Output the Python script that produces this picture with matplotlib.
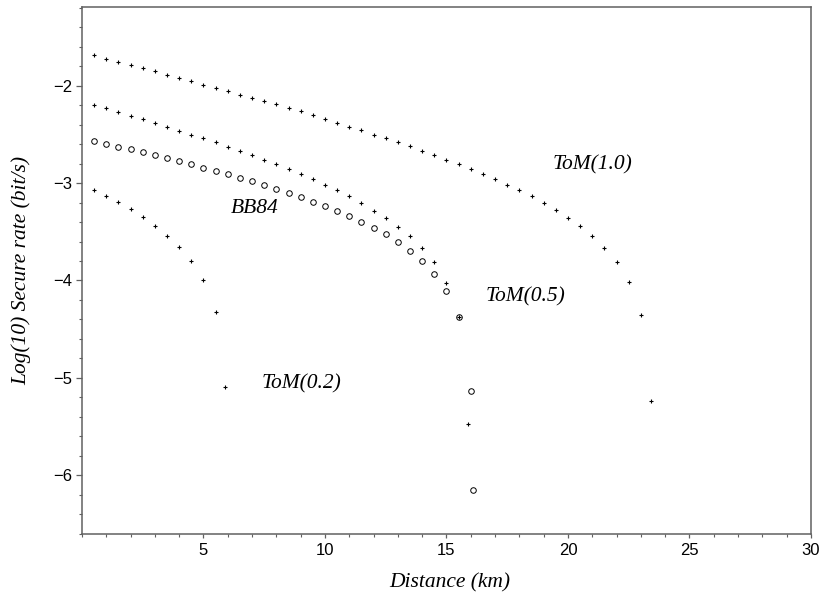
import matplotlib
matplotlib.use("Agg")
import matplotlib.pyplot as plt
from matplotlib.ticker import MultipleLocator

# distance grid (km) used by the Maple point plots
dist = [0.5, 1.0, 1.5, 2.0, 2.5, 3.0, 3.5, 4.0, 4.5, 5.0,
        5.5, 6.0, 6.5, 7.0, 7.5, 8.0, 8.5, 9.0, 9.5, 10.0,
        10.5, 11.0, 11.5, 12.0, 12.5, 13.0, 13.5, 14.0, 14.5, 15.0,
        15.5, 16.0, 16.5, 17.0, 17.5, 18.0, 18.5, 19.0, 19.5, 20.0,
        20.5, 21.0, 21.5, 22.0, 22.5, 23.0]

# ToM(1.0)
tom10_x = dist + [23.4]
tom10_y = [-1.686, -1.721, -1.752, -1.782, -1.816, -1.850, -1.884, -1.918, -1.952, -1.987,
           -2.020, -2.054, -2.089, -2.123, -2.157, -2.191, -2.225, -2.259, -2.297, -2.341,
           -2.379, -2.419, -2.457, -2.501, -2.535, -2.580, -2.621, -2.668, -2.713, -2.757,
           -2.805, -2.852, -2.904, -2.958, -3.016, -3.074, -3.136, -3.204, -3.276, -3.354,
           -3.443, -3.542, -3.661, -3.811, -4.012, -4.353, -5.240]

# ToM(0.5)
tom05_x = dist[:31] + [15.9]
tom05_y = [-2.198, -2.232, -2.270, -2.307, -2.345, -2.382, -2.419, -2.460, -2.501, -2.539,
           -2.580, -2.624, -2.668, -2.709, -2.757, -2.805, -2.856, -2.907, -2.962, -3.016,
           -3.071, -3.128, -3.200, -3.282, -3.361, -3.453, -3.545, -3.668, -3.814, -4.022,
           -4.377, -5.475]

# BB84
bb84_x = dist[:31] + [16.0, 16.1]
bb84_y = [-2.566, -2.593, -2.624, -2.652, -2.682, -2.713, -2.744, -2.774, -2.808, -2.839,
          -2.873, -2.907, -2.944, -2.979, -3.016, -3.057, -3.098, -3.143, -3.190, -3.238,
          -3.286, -3.340, -3.395, -3.460, -3.527, -3.606, -3.695, -3.801, -3.934, -4.107,
          -4.377, -5.138, -6.155]

# ToM(0.2)
tom02_x = dist[:11] + [5.9]
tom02_y = [-3.071, -3.132, -3.197, -3.269, -3.347, -3.435, -3.538, -3.654, -3.797, -3.995,
           -4.325, -5.093]

# curve labels: text, x, y
labels = [("ToM(1.0)", 21.0, -2.81),
          ("ToM(0.5)", 18.25, -4.17),
          ("BB84", 7.1, -3.26),
          ("ToM(0.2)", 9.05, -5.06)]

serif = ["Liberation Serif", "DejaVu Serif"]
sans = ["Liberation Sans Narrow", "Liberation Sans", "DejaVu Sans"]

fig = plt.figure(figsize=(8.2, 5.95), dpi=100)
ax = fig.add_axes([0.1, 0.1025, 0.889, 0.8857])

ax.plot(tom10_x, tom10_y, ls="none", marker="+", ms=3.2, mew=0.8, color="black")
ax.plot(tom05_x, tom05_y, ls="none", marker="+", ms=3.2, mew=0.8, color="black")
ax.plot(tom02_x, tom02_y, ls="none", marker="+", ms=3.2, mew=0.8, color="black")
ax.plot(bb84_x, bb84_y, ls="none", marker="o", ms=4.0, mew=0.7,
        mfc="none", mec="black")

for txt, x, y in labels:
    ax.text(x, y, txt, ha="center", va="center", fontsize=15.5,
            fontstyle="italic", family=serif)

ax.set_xlim(0, 30)
ax.set_ylim(-6.605, -1.19)
ax.xaxis.set_major_locator(MultipleLocator(5))
ax.xaxis.set_minor_locator(MultipleLocator(1))
ax.yaxis.set_major_locator(MultipleLocator(1))
ax.yaxis.set_minor_locator(MultipleLocator(0.2))

ax.set_xticks([5, 10, 15, 20, 25, 30])
ax.set_yticks([-6, -5, -4, -3, -2])

for s in ax.spines.values():
    s.set_color("#606060")
    s.set_linewidth(1.1)

ax.tick_params(axis="x", which="major", length=3.2, width=0.9, color="#606060", pad=3)
ax.tick_params(axis="x", which="minor", length=2.0, width=0.8, color="#606060")
ax.tick_params(axis="y", which="major", length=4.3, width=0.9, color="#606060", pad=3)
ax.tick_params(axis="y", which="minor", length=2.2, width=0.8, color="#606060")
for lab in ax.get_xticklabels() + ax.get_yticklabels():
    lab.set_family(sans)
    lab.set_fontsize(12)

ax.set_xlabel("Distance (km)", fontsize=15.5, fontstyle="italic", family=serif, va="center")
ax.xaxis.set_label_coords(0.505, -0.093)
ax.set_ylabel("Log(10) Secure rate (bit/s)", fontsize=15.5, fontstyle="italic",
              family=serif, va="center")
ax.yaxis.set_label_coords(-0.0837, 0.5)

fig.savefig("out.png", dpi=100)
